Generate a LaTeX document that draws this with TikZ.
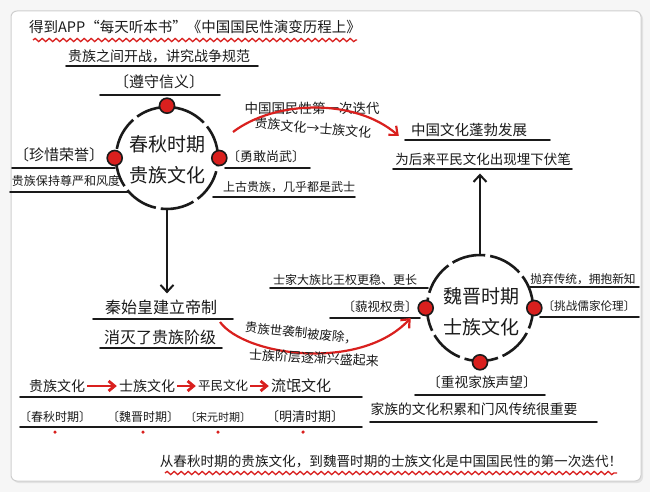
\documentclass[tikz,border=0pt]{standalone}
\usepackage{fontspec}
\setmainfont{Noto Sans CJK SC}
\usetikzlibrary{arrows.meta,decorations.pathmorphing}
\definecolor{ink}{HTML}{1A1A1A}
\definecolor{pen}{HTML}{D9201E}
\definecolor{framegray}{HTML}{CFCFCF}
\definecolor{outside}{HTML}{F6F6F6}
\begin{document}
\begin{tikzpicture}[x=1pt,y=-1pt,
  txt/.style={text=ink, inner sep=1pt, font=\fontsize{#1}{#1}\selectfont},
  txt/.default=14,
  big/.style={text=ink, inner sep=1pt, align=center, font=\fontsize{19}{31}\selectfont},
  ul/.style={ink, line width=1.6pt, line cap=round},
  wave/.style={pen, line width=1.3pt, decorate, decoration={snake, segment length=7pt, amplitude=1.6pt}},
  ring/.style={circle, draw=ink, line width=2.6pt, dash pattern=on 34pt off 5pt, minimum size=#1, inner sep=0pt},
  rdot/.style={circle, fill=pen, draw=ink, line width=1.6pt, minimum size=15pt, inner sep=0pt},
  sdot/.style={circle, fill=pen, minimum size=3.5pt, inner sep=0pt},
  karrow/.style={ink, line width=2pt, -{Straight Barb[length=7pt,width=13pt,line width=2pt]}},
  rarrow/.style={pen, line width=2.2pt, -{Straight Barb[length=7pt,width=12pt,line width=2.2pt]}},
  tarrow/.style={pen, line width=2.8pt, -{Straight Barb[length=6pt,width=10pt,line width=2.8pt]}, shorten <=1pt, shorten >=1pt}
]
\useasboundingbox (0,0) rectangle (650,492);
\fill[outside] (0,0) rectangle (650,492);
\fill[framegray!60] (13,13) [rounded corners=6pt] rectangle (643,483);
\filldraw[fill=white, draw=framegray, line width=1pt, rounded corners=6pt] (11,11) rectangle (641,481);

% title
\node[txt=14.5] (title) at (195,27) {得到APP“每天听本书”《中国国民性演变历程上》};
\draw[wave] (33,40) -- (357,40);

% top branch of circle 1
\node[txt=14] (n2) at (159,56) {贵族之间开战，讲究战争规范};
\draw[ul] (66,66) -- (258,66);
\node[txt=15] (n3) at (159,82) {〔遵守信义〕};
\draw[ul] (100,95) -- (220,95);

% circle 1
\node[ring=102pt] (c1) at (167,158) {};
\node[big] (c1t) at (167,160) {春秋时期\\贵族文化};
\node[rdot] (d1t) at (c1.north) {};
\node[rdot] (d1l) at (c1.west) {};
\node[rdot] (d1r) at (c1.east) {};

\node[txt=15] (n5) at (59,155) {〔珍惜荣誉〕};
\draw[ul] (12,168) -- (115,168);
\node[txt=12] (n6) at (66,181) {贵族保持尊严和风度};
\draw[ul] (10,192) -- (128,192);

\node[txt=13] (n7) at (266,157) {〔勇敢尚武〕};
\draw[ul] (225,168) -- (310,168);
\node[txt=12] (n8) at (289,187) {上古贵族，几乎都是武士};
\draw[ul] (213,197) -- (355,197);

% first iteration arc
\node[txt=13.5] (n9) at (312,108) {中国国民性第一次迭代};
\node[txt=13, rotate=-5] (n10) at (313,128) {贵族文化→士族文化};
\node[txt=14.5] (n11) at (469,130) {中国文化蓬勃发展};
\draw[ul] (405,140) -- (550,140);
\node[txt=13.5] (n12) at (483,159) {为后来平民文化出现埋下伏笔};
\draw[ul] (393,169) -- (572,169);
\coordinate (a1s) at (233,132);
\draw[rarrow] (a1s) .. controls (275,100) and (355,98) .. ([shift={(-11,6)}]n11.west);

% Qin
\node[txt=16] (n13) at (161,307) {秦始皇建立帝制};
\draw[ul] (93,319) -- (233,319);
\node[txt=16] (n14) at (160,337) {消灭了贵族阶级};
\draw[ul] (100,348) -- (222,348);
\draw[karrow] (c1.south) -- ([yshift=5pt]c1.south |- n13.north);

% circle 2
\node[ring=106pt] (c2) at (480,308) {};
\node[big] (c2t) at (481,312) {魏晋时期\\士族文化};
\node[rdot] (d2l) at (c2.west) {};
\node[rdot] (d2r) at (c2.east) {};
\node[rdot] (d2b) at (c2.south) {};
\draw[karrow] (c2.north) -- ([yshift=-7pt]c2.north |- n12.south);

\node[txt=12] (n18) at (345,280) {士家大族比王权更稳、更长};
\draw[ul] (270,288) -- (428,288);
\node[txt=12.5] (n19) at (380,307) {〔藐视权贵〕};
\draw[ul] (330,318) -- (420,318);
\node[txt=11.7] (n20) at (583,279) {抛弃传统，拥抱新知};
\draw[ul] (530,287) -- (639,287);
\node[txt=11.6] (n21) at (589,306) {〔挑战儒家伦理〕};
\draw[ul] (540,317) -- (639,317);
\node[txt=13.7] (n22) at (482,382) {〔重视家族声望〕};
\draw[ul] (415,395) -- (545,395);
\node[txt=13.8] (n23) at (474,409) {家族的文化积累和门风传统很重要};
\draw[ul] (370,422) -- (597,422);

% second arc
\coordinate (a2s) at (220,322);
\draw[rarrow] (a2s) .. controls (245,356) and (360,372) .. ([shift={(-8,11)}]n19.east);
\node[txt=12.5, rotate=-6] (n15) at (301,333) {贵族世袭制被废除，};
\node[txt=13, rotate=-3] (n16) at (314,358) {士族阶层逐渐兴盛起来};

% timeline
\node[txt=14] (t1) at (57,386) {贵族文化};
\node[txt=14] (t2) at (147,386) {士族文化};
\node[txt=12.5] (t3) at (223,386) {平民文化};
\node[txt=15] (t4) at (301,386) {流氓文化};
\draw[tarrow] (t1) -- (t2);
\draw[tarrow] (t2) -- (t3);
\draw[tarrow] (t3) -- (t4);
\draw[ul] (20,397) -- (362,397);
\node[txt=12] (p1) at (55,417) {〔春秋时期〕};
\node[txt=12] (p2) at (143,417) {〔魏晋时期〕};
\node[txt=11] (p3) at (218,417) {〔宋元时期〕};
\node[txt=13] (p4) at (305,417) {〔明清时期〕};
\draw[ul] (20,427) -- (362,427);
\node[sdot] (s1) at (55,432) {};
\node[sdot] (s2) at (143,432) {};
\node[sdot] (s3) at (218,432) {};
\node[sdot] (s4) at (303,432) {};

% conclusion
\node[txt=13.6] (fin) at (391,461) {从春秋时期的贵族文化，到魏晋时期的士族文化是中国国民性的第一次迭代！};
\draw[wave] (165,473) -- (617,473);
\end{tikzpicture}
\end{document}
